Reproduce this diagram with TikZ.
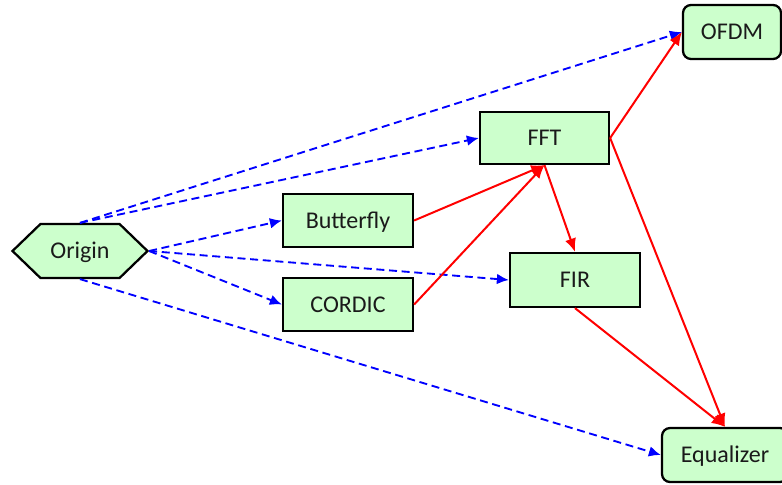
\documentclass[tikz,border=0pt]{standalone}
\usepackage{fontspec}
\setmainfont{Carlito}
\usetikzlibrary{shapes.symbols,arrows.meta}
\definecolor{boxfill}{HTML}{CCFFCC}
\definecolor{txt}{HTML}{1A1A1A}
\tikzset{
  box/.style={draw=black, line width=1.7pt, fill=boxfill, text=txt, font=\fontsize{18}{21}\selectfont, inner sep=0pt, text height=11.4pt, text depth=0pt},
  rbox/.style={box, rectangle},
  roundbox/.style={box, rectangle, rounded corners=6pt},
  hexbox/.style={box, signal, signal from=nowhere, signal to={west and east}, signal pointer angle=88},
  bluearrow/.style={draw=blue, line width=1.4pt, dash pattern=on 6pt off 3.5pt, -{Latex[length=9pt,width=8pt]}},
  redarrow/.style={draw=red, line width=1.5pt, -{Latex[length=10pt,width=8.5pt]}},
}
\begin{document}
\begin{tikzpicture}[x=0.75pt,y=-0.75pt]
\useasboundingbox (0,0) rectangle (782,485);
\node[hexbox, minimum width=101.25pt, minimum height=40.5pt] (origin) at (80,251) {Origin};
\node[rbox, minimum width=97.5pt, minimum height=39.75pt] (butterfly) at (348,220.5) {Butterfly};
\node[rbox, minimum width=97.5pt, minimum height=39.75pt] (cordic) at (348,304.5) {CORDIC};
\node[rbox, minimum width=96.75pt, minimum height=39pt] (fft) at (544.5,138) {FFT};
\node[rbox, minimum width=97.5pt, minimum height=40.5pt] (fir) at (575,280) {FIR};
\node[roundbox, minimum width=73.5pt, minimum height=40.5pt] (ofdm) at (732,32) {OFDM};
\node[roundbox, minimum width=94.5pt, minimum height=40.5pt] (eq) at (725,455) {Equalizer};
% blue dashed
\draw[bluearrow] (origin.north) -- (ofdm.west);
\draw[bluearrow] (origin.north) -- (fft.west);
\draw[bluearrow] (origin.east) -- (butterfly.west);
\draw[bluearrow] (origin.east) -- (fir.west);
\draw[bluearrow] (origin.east) -- (cordic.west);
\draw[bluearrow] (origin.south) -- (eq.west);
% red
\draw[redarrow] (butterfly.east) -- (fft.south);
\draw[redarrow] (cordic.east) -- (fft.south);
\draw[redarrow] (fft.south) -- (fir.north);
\draw[redarrow] (fft.east) -- (ofdm.west);
\draw[redarrow] (fft.east) -- (eq.north);
\draw[redarrow] (fir.south) -- (eq.north);
\end{tikzpicture}
\end{document}
